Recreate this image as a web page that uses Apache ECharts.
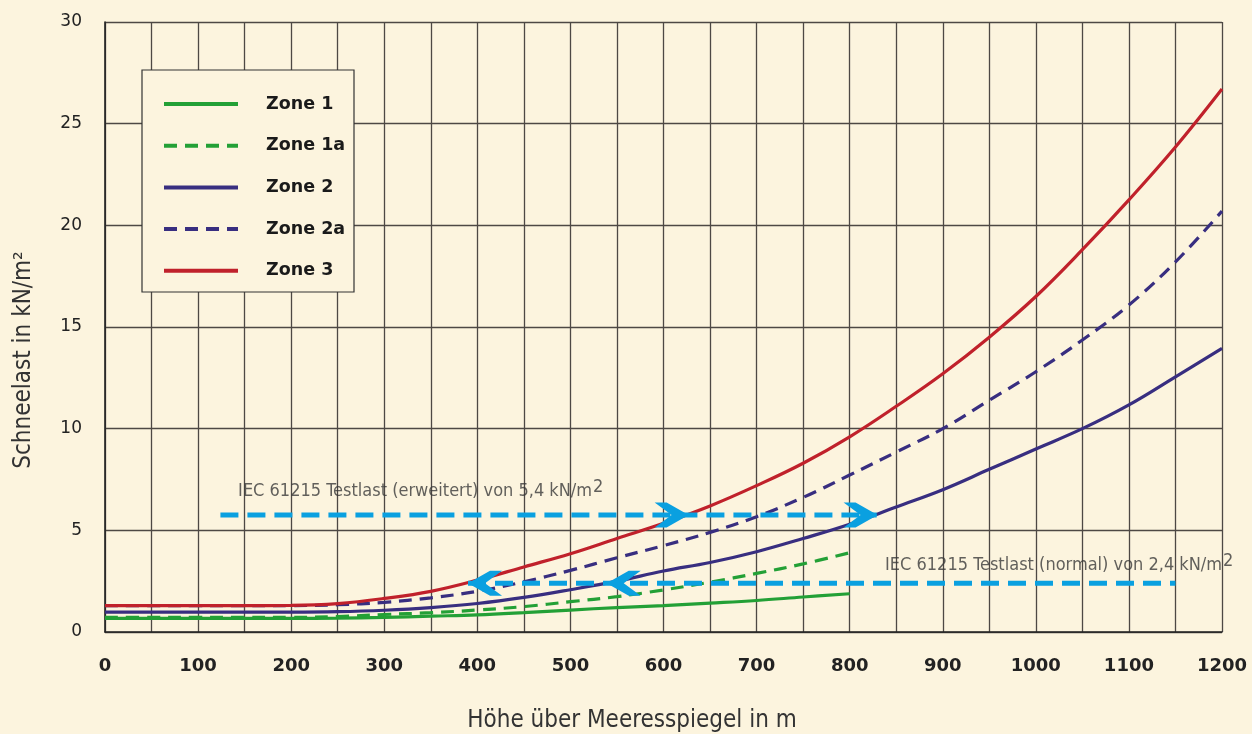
<!DOCTYPE html>
<html><head><meta charset="utf-8">
<script src="https://cdn.jsdelivr.net/npm/echarts@6/dist/echarts.min.js"></script>
<style>html,body{margin:0;padding:0;background:#FCF4DE}#c{width:1252px;height:734px}</style>
</head><body><div id="c"></div>
<script>
// ---- data ----
const altitudes = [0,50,100,150,200,250,300,350,400,450,500,550,600,650,700,750,800,850,900,950,1000,1050,1100,1150,1200];
const zone1  = [0.67,0.67,0.67,0.67,0.67,0.68,0.72,0.78,0.84,0.95,1.08,1.2,1.3,1.42,1.55,1.72,1.88];
const zone1a = [0.72,0.72,0.72,0.72,0.72,0.76,0.86,0.95,1.08,1.25,1.49,1.74,2.07,2.45,2.88,3.35,3.9];
const zone2  = [0.98,0.98,0.98,0.98,0.98,1.0,1.07,1.2,1.4,1.7,2.08,2.5,3.0,3.42,3.95,4.6,5.3,6.15,7.0,8.0,9.0,10.0,11.17,12.55,13.95];
const zone2a = [1.3,1.3,1.3,1.3,1.3,1.34,1.46,1.68,2.0,2.47,3.03,3.65,4.25,4.9,5.67,6.62,7.72,8.85,10.0,11.4,12.8,14.36,16.08,18.2,20.7];
const zone3  = [1.3,1.3,1.3,1.3,1.31,1.4,1.65,2.0,2.55,3.2,3.85,4.6,5.35,6.2,7.2,8.3,9.6,11.1,12.7,14.5,16.5,18.8,21.25,23.85,26.7];
const seriesNames = ['Zone 1','Zone 1a','Zone 2','Zone 2a','Zone 3'];
const xTickLabels = [0,100,200,300,400,500,600,700,800,900,1000,1100,1200];
const testExtendedLine = [[124,5.75],[829,5.75]];
const testNormalLine   = [[390,2.4],[1150,2.4]];
const arrowsRight = [[627,5.75],[830,5.75]];
const arrowsLeft  = [[390,2.4],[539,2.4]];
const labelExtended = [[143,6.9]];
const labelNormal   = [[838,3.3]];
const textExtended = 'IEC 61215 Testlast (erweitert) von 5,4 kN/m';
const textNormal   = 'IEC 61215 Testlast (normal) von 2,4 kN/m';
const xTitle = 'Höhe über Meeresspiegel in m';
const yTitle = 'Schneelast in kN/m²';

const zip = v => v.map((y,i)=>[altitudes[i],y]);
const BG = '#FCF4DE';
const GREEN = '#23A036', BLUE = '#382E80', RED = '#C0212B', CYAN = '#0AA0E0';
const NARROW = "'Liberation Sans Narrow','DejaVu Sans Condensed',Roboto,sans-serif";

function curve(name, vals, color, dashed){
  return {name, type:'line', data: zip(vals), symbol:'none', showSymbol:false, smooth:0.4, silent:true,
    lineStyle:{color, width:3.2, type: dashed ? [13,8] : 'solid'}, itemStyle:{color}};
}
function annLine(data){
  return {type:'line', data, symbol:'none', silent:true, z:3,
    lineStyle:{color:CYAN, width:5, type:[18,9]}};
}
const rightPath = 'path://M0,0 L12,0 L34,12 L12,24 L0,24 L17,12 Z';
const leftPath  = 'path://M34,0 L22,0 L0,12 L22,24 L34,24 L17,12 Z';
function arrows(data, right){
  return {type:'scatter', data, silent:true, z:4, symbol: right ? rightPath : leftPath,
    symbolSize:[34,25], symbolOffset:[right ? -17 : 17, 0], itemStyle:{color:CYAN, opacity:1}};
}
function textLabel(data, txt){
  return {type:'scatter', data, silent:true, symbolSize:0, z:5,
    label:{show:true, position:'right', distance:0,
      formatter: '{a|' + txt + '}{s|2}',
      rich:{a:{fontFamily:NARROW, fontSize:18, color:'#3a3a3a'},
            s:{fontFamily:NARROW, fontSize:18, color:'#3a3a3a', padding:[0,0,8,1]}}}};
}

const chart = echarts.init(document.getElementById('c'), null, {renderer:'canvas'});
chart.setOption({
  backgroundColor: BG,
  animation:false,
  grid:{left:105, right:30, top:22, bottom:102},
  xAxis:{type:'value', min:0, max:1200, interval:50,
    axisLine:{show:true, lineStyle:{color:'#222', width:1.6}},
    axisTick:{show:false},
    splitLine:{show:true, lineStyle:{color:'#4d4844', width:1.3}},
    axisLabel:{margin:25, fontFamily:'DejaVu Sans', fontWeight:'bold', fontSize:18, color:'#222',
      formatter: v => xTickLabels.indexOf(v) >= 0 ? String(v) : ''}},
  yAxis:{type:'value', min:0, max:30, interval:5,
    axisLine:{show:true, lineStyle:{color:'#222', width:1.6}},
    axisTick:{show:false},
    splitLine:{show:true, lineStyle:{color:'#4d4844', width:1.3}},
    axisLabel:{margin:23, fontFamily:'DejaVu Sans', fontSize:17, color:'#222'}},
  legend:{data:seriesNames, orient:'vertical', left:157, top:88, itemWidth:74, itemHeight:14, itemGap:19.7,
    selectedMode:false, z:5,
    itemStyle:{opacity:0},
    lineStyle:{width:4},
    textStyle:{fontFamily:'DejaVu Sans', fontWeight:'bold', fontSize:17.5, color:'#1a1a1a', lineHeight:22, padding:[0,0,0,23]}},
  graphic:[
    {type:'rect', z:4, shape:{x:142, y:70, width:212, height:222}, style:{fill:BG, stroke:'#333', lineWidth:1.2}},
    {type:'text', z:5, x:632, y:721, style:{text:xTitle, font:"24px "+NARROW, fill:'#333', align:'center', verticalAlign:'middle'}},
    {type:'text', z:5, x:24, y:360, rotation:Math.PI/2, style:{text:yTitle, font:"24px "+NARROW, fill:'#333', align:'center', verticalAlign:'middle'}}
  ],
  series:[
    curve(seriesNames[0], zone1, GREEN, false),
    curve(seriesNames[1], zone1a, GREEN, true),
    curve(seriesNames[2], zone2, BLUE, false),
    curve(seriesNames[3], zone2a, BLUE, true),
    curve(seriesNames[4], zone3, RED, false),
    annLine(testExtendedLine),
    annLine(testNormalLine),
    arrows(arrowsRight, true),
    arrows(arrowsLeft, false),
    textLabel(labelExtended, textExtended),
    textLabel(labelNormal, textNormal)
  ]
});
</script></body></html>
